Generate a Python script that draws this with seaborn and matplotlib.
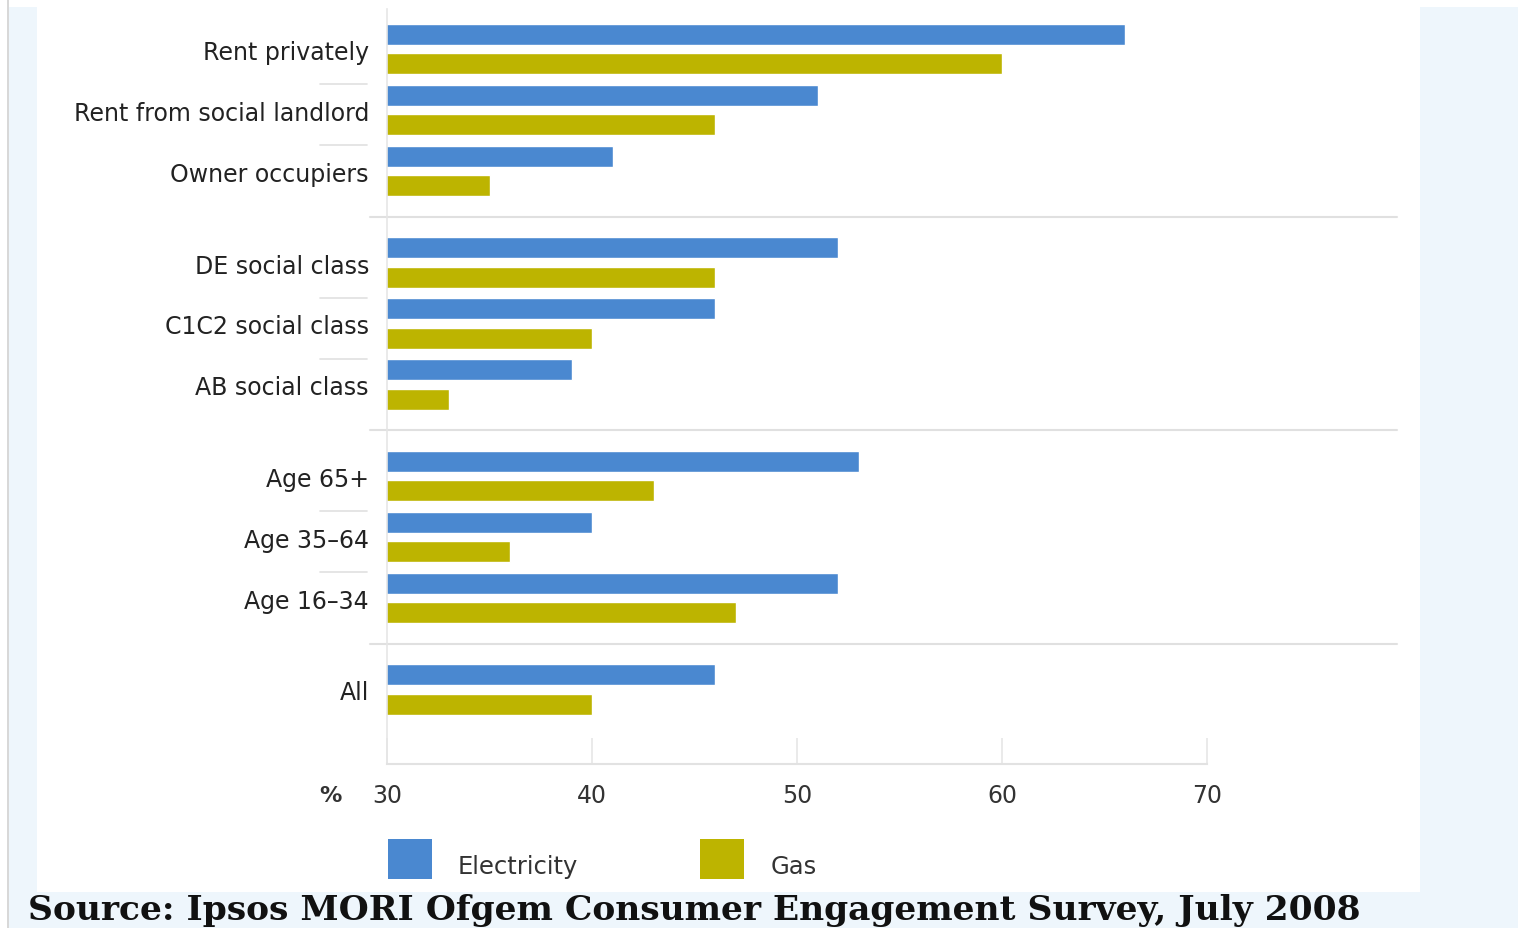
import numpy as np
import pandas as pd
import seaborn as sns
import matplotlib
matplotlib.use("Agg")
import matplotlib.pyplot as plt
from matplotlib.patches import Rectangle
from matplotlib.transforms import ScaledTranslation

categories = ["Rent privately", "Rent from social landlord", "Owner occupiers",
              "DE social class", "C1C2 social class", "AB social class",
              "Age 65+", "Age 35\u201364", "Age 16\u201334", "All"]
groups = [0, 0, 0, 1, 1, 1, 2, 2, 2, 3]
electricity = [66, 51, 41, 52, 46, 39, 53, 40, 52, 46]
gas = [60, 46, 35, 46, 40, 33, 43, 36, 47, 40]
series_names = ["Electricity", "Gas"]
xticks = [30, 40, 50, 60, 70]
source_text = "Source: Ipsos MORI Ofgem Consumer Engagement Survey, July 2008"

# vertical positions: half-category gap between groups
pos = [i + 0.5 * g for i, g in enumerate(groups)]

df = pd.DataFrame({
    "pos": pos * 2,
    "value": electricity + gas,
    "series": [series_names[0]] * len(categories) + [series_names[1]] * len(categories),
})

sns.set_theme(style="white")
plt.rcParams["font.family"] = ["DejaVu Sans"]

W, H = 1518, 929
fig = plt.figure(figsize=(W / 100, H / 100), dpi=100)
fig.patch.set_facecolor("#EEF6FC")

# white panel and frame pieces
fig.add_artist(Rectangle((0, 1 - 8 / H), 1, 8 / H, transform=fig.transFigure,
                         facecolor="white", edgecolor="none", zorder=0))
fig.add_artist(Rectangle((0, 0), 7 / W, 1, transform=fig.transFigure,
                         facecolor="white", edgecolor="none", zorder=0))
fig.add_artist(Rectangle((7 / W, 0), 1.5 / W, 1, transform=fig.transFigure,
                         facecolor="#D8D8D8", edgecolor="none", zorder=0))
fig.add_artist(Rectangle((37 / W, 1 - 893 / H), (1420 - 37) / W, (893 - 8) / H,
                         transform=fig.transFigure, facecolor="white",
                         edgecolor="none", zorder=0))

ax_l, ax_r, ax_t, ax_b = 387, 1397, 10, 765
ax = fig.add_axes([ax_l / W, 1 - ax_b / H, (ax_r - ax_l) / W, (ax_b - ax_t) / H])
ax.set_facecolor("none")

palette = {"Electricity": "#4A88D0", "Gas": "#BDB400"}
sns.barplot(data=df, x="value", y="pos", hue="series", orient="y",
            native_scale=True, palette=palette, width=0.98, gap=0.3,
            legend=False, ax=ax, saturation=1)

px_per_unit = 20.5
ax.set_xlim(30, 30 + (ax_r - ax_l) / px_per_unit)
unit = 61.0
center0 = 50.0
ax.set_ylim((ax_b - center0) / unit, (ax_t - center0) / unit)

# labels
ax.set_yticks(pos)
ax.set_yticklabels(categories, fontsize=17, color="#222222")
ax.tick_params(axis="y", left=False, length=0, pad=13)
shift = ScaledTranslation(0, -3 / 100, fig.dpi_scale_trans)
for lbl in ax.get_yticklabels():
    lbl.set_verticalalignment("center")
    lbl.set_transform(lbl.get_transform() + shift)
ax.set_xticks(xticks)
ax.set_xticklabels([str(t) for t in xticks], fontsize=17, color="#333333")
ax.tick_params(axis="x", bottom=True, direction="in", length=19, width=1.2,
               color="#E6E6E6", pad=14)
ax.set_xlabel("")
ax.set_ylabel("")

for s in ["top", "right"]:
    ax.spines[s].set_visible(False)
ax.spines["left"].set_color("#E6E6E6")
ax.spines["left"].set_linewidth(1.2)
ax.spines["bottom"].set_color("#E2E2E2")
ax.spines["bottom"].set_linewidth(1.5)
ax.spines["bottom"].set_bounds(30, 70)

# separators
trans = ax.get_yaxis_transform()
for i in range(len(categories) - 1):
    mid = (pos[i] + pos[i + 1]) / 2
    if groups[i] == groups[i + 1]:
        ax.plot([-0.066, -0.02], [mid + 0.08, mid + 0.08], transform=trans,
                color="#E0E0E0", lw=1.2, clip_on=False)
    else:
        ax.plot([-0.017, 1.0], [mid, mid], transform=trans, color="#E0E0E0",
                lw=1.5, clip_on=False)

# % label
fig.text(330 / W, 1 - 796 / H, "%", fontsize=16, fontweight="bold", color="#333333",
         ha="center", va="center")

# legend
for (x0, name, tx) in [(388, "Electricity", 458), (700, "Gas", 771)]:
    fig.add_artist(Rectangle((x0 / W, 1 - 880 / H), 44 / W, 40 / H,
                             transform=fig.transFigure, facecolor=palette[name],
                             edgecolor="none"))
    fig.text(tx / W, 1 - 867 / H, name, fontsize=17.5, color="#333333",
             ha="left", va="center")

# source
fig.text(28 / W, 1 - 911 / H, source_text, fontsize=24.8, fontweight="bold",
         family="DejaVu Serif", color="#111111", ha="left", va="center")

fig.savefig("out.png", dpi=100, facecolor=fig.get_facecolor())
